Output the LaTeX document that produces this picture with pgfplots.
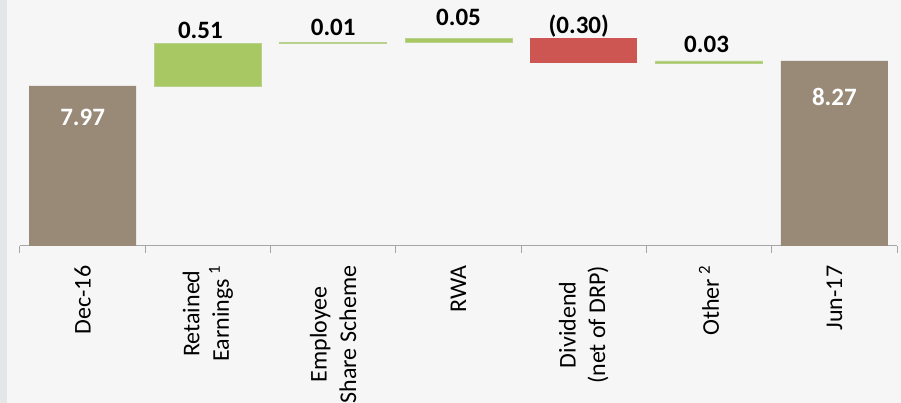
\documentclass[border=0pt]{standalone}
\usepackage{fontspec}
\setmainfont{Carlito}
\usepackage{pgfplots}
\pgfplotsset{compat=1.18}
\definecolor{brownbar}{HTML}{998A78}
\definecolor{greenbar}{HTML}{A8C864}
\definecolor{greenedge}{HTML}{B8D28E}
\definecolor{redbar}{HTML}{CD5652}
\definecolor{bg}{HTML}{F6F6F6}
\definecolor{strip}{HTML}{E4E6E8}
\definecolor{axisgray}{HTML}{A6A6A6}
\begin{document}
\begin{tikzpicture}
\fill[bg] (-20pt,-157pt) rectangle (881pt,246pt);
\fill[strip] (-20pt,-157pt) rectangle (-13pt,246pt);
\begin{axis}[
  at={(0pt,0pt)}, anchor=south west,
  scale only axis, width=877pt, height=246pt,
  xmin=-0.5, xmax=6.5, ymin=6.05, ymax=9.0,
  ybar stacked, bar width=107pt,
  axis x line=bottom, axis y line=none,
  x axis line style={-, draw=axisgray, line width=1pt},
  xtick={0,1,2,3,4,5,6},
  xticklabels={Dec-16, {Retained\\Earnings\,\textsuperscript{1}}, {Employee\\Share Scheme}, RWA, {Dividend\\(net of DRP)}, {Other\,\textsuperscript{2}}, Jun-17},
  major x tick style={draw=none},
  minor xtick={-0.5,0.5,1.5,2.5,3.5,4.5,5.5,6.5},
  minor tick length=7pt, tick align=outside,
  minor x tick style={draw=axisgray, line width=1pt},
  xticklabel shift=12pt,
  xticklabel style={rotate=90, anchor=east, align=center, font=\fontsize{24}{29.5}\selectfont},
]
\addplot[draw=none, fill=none, forget plot] coordinates {(0,0) (1,7.97) (2,8.48) (3,8.49) (4,8.24) (5,8.24) (6,0)};
\addplot[fill=greenbar, draw=greenedge, line width=0.7pt] coordinates {(0,0) (1,0.51) (2,0.01) (3,0.05) (4,0) (5,0.03) (6,0)};
\addplot[fill=redbar, draw=none] coordinates {(0,0) (1,0) (2,0) (3,0) (4,0.30) (5,0) (6,0)};
\addplot[fill=brownbar, draw=none] coordinates {(0,7.97) (1,0) (2,0) (3,0) (4,0) (5,0) (6,8.27)};
\end{axis}
\begin{axis}[
  at={(0pt,0pt)}, anchor=south west,
  scale only axis, width=877pt, height=246pt,
  xmin=-0.5, xmax=6.5, ymin=6.05, ymax=9.0,
  hide axis, clip=false,
  nodes near coords, point meta=explicit symbolic,
  every node near coord/.append style={anchor=base, font=\bfseries\fontsize{25}{30}\selectfont},
]
\addplot[only marks, mark=none, nodes near coords align={anchor=base}] coordinates {(0.94,8.544)[0.51] (2,8.58)[0.01] (3,8.70)[0.05] (3.96,8.604)[(0.30)] (4.98,8.376)[0.03]};
\addplot[only marks, mark=none, every node near coord/.append style={text=white}] coordinates {(0,7.489)[7.97] (6,7.729)[8.27]};
\end{axis}
\pgfresetboundingbox
\useasboundingbox (-20pt,-157pt) rectangle (881pt,246pt);
\end{tikzpicture}
\end{document}
